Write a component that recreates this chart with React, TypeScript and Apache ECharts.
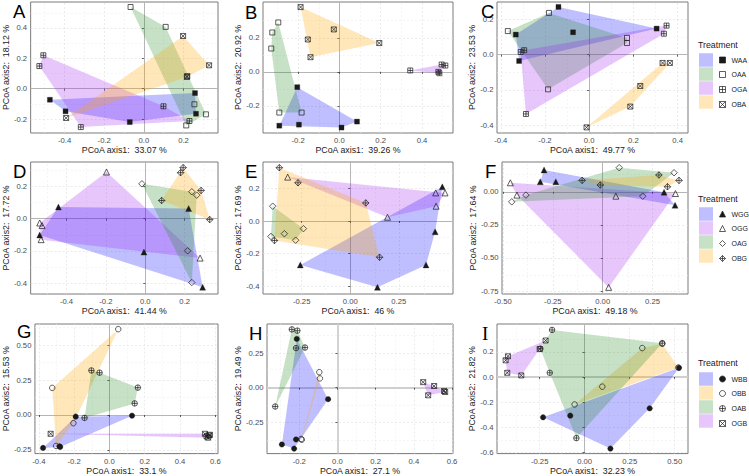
import React, { useEffect, useRef } from "react";
import * as echarts from "echarts";

type P = [number, number];

// ---------- Row 1 (A, B, C) ----------
const row1Groups = ["WAA", "OAA", "OGA", "OBA"];
const aWAA: P[] = [[-0.474, -0.073], [-0.395, -0.149], [-0.071, -0.22], [0.258, -0.029], [0.263, -0.165]];
const aOAA: P[] = [[-0.067, 0.538], [0.11, 0.407], [0.255, -0.103], [0.313, -0.169], [0.214, -0.242]];
const aOGA: P[] = [[-0.507, 0.22], [-0.527, 0.149], [-0.318, -0.253], [0.099, -0.116], [0.23, -0.213]];
const aOBA: P[] = [[0.198, 0.347], [0.329, 0.154], [0.217, 0.077], [-0.392, -0.193], [0.219, 0.083]];
const aXLim = [-0.571, 0.374];
const aYLim = [-0.292, 0.571];
const aXTicks = [-0.4, -0.2, 0, 0.2];
const aYTicks = [-0.2, 0, 0.2, 0.4];

const bWAA: P[] = [[-0.204, -0.09], [-0.291, -0.316], [-0.196, -0.31], [0.01, -0.327], [0.085, -0.292]];
const bOAA: P[] = [[-0.296, 0.29], [-0.325, 0.231], [-0.33, 0.137], [-0.291, -0.239], [-0.183, -0.239]];
const bOGA: P[] = [[0.343, 0.008], [0.495, 0.043], [0.513, 0.037], [0.479, 0.0], [0.484, -0.008]];
const bOBA: P[] = [[-0.188, 0.38], [-0.027, 0.249], [-0.153, 0.19], [-0.14, 0.086], [0.193, 0.169]];
const bXLim = [-0.37, 0.55];
const bYLim = [-0.359, 0.41];
const bXTicks = [-0.2, 0, 0.2, 0.4];
const bYTicks = [-0.2, 0, 0.2];

const cWAA: P[] = [[-0.139, 0.271], [-0.332, 0.114], [-0.073, 0.127], [-0.317, -0.036], [0.305, 0.148]];
const cOAA: P[] = [[-0.368, 0.134], [-0.182, 0.237], [0.171, 0.095], [0.171, 0.066], [-0.186, -0.197]];
const cOGA: P[] = [[-0.31, 0.015], [-0.294, 0.025], [0.35, 0.165], [0.338, 0.119], [-0.286, -0.337]];
const cOBA: P[] = [[-0.012, -0.413], [0.186, -0.295], [0.231, -0.178], [0.332, -0.047], [0.365, -0.047]];
const cXLim = [-0.417, 0.447];
const cYLim = [-0.445, 0.299];
const cXTicks = [-0.4, -0.2, 0, 0.2, 0.4];
const cYTicks = [-0.4, -0.2, 0, 0.2];

// ---------- Row 2 (D, E, F) ----------
const row2Groups = ["WGG", "OGG", "OAG", "OBG"];
const dWGG: P[] = [[-0.441, 0.072], [-0.536, -0.101], [-0.007, -0.207], [0.22, 0.062], [0.291, -0.424]];
const dOGG: P[] = [[-0.197, 0.288], [-0.536, -0.027], [-0.524, -0.043], [-0.529, -0.13], [0.278, -0.244]];
const dOAG: P[] = [[-0.017, 0.215], [0.236, 0.166], [0.215, -0.199], [0.236, -0.395], [0.261, 0.145]];
const dOBG: P[] = [[0.192, 0.315], [0.179, 0.284], [0.083, 0.112], [0.283, 0.174], [0.327, -0.006]];
const dXLim = [-0.582, 0.369];
const dYLim = [-0.466, 0.35];
const dXTicks = [-0.4, -0.2, 0, 0.2];
const dYTicks = [-0.4, -0.2, 0, 0.2];

const eWGG: P[] = [[-0.257, -0.27], [0.14, -0.408], [0.39, -0.27], [0.437, -0.066], [0.474, 0.21]];
const eOGG: P[] = [[-0.322, 0.27], [0.192, 0.023], [0.44, 0.173], [0.488, 0.173], [0.442, 0.091]];
const eOAG: P[] = [[-0.399, 0.091], [-0.408, -0.095], [-0.339, -0.078], [-0.281, -0.118], [-0.241, -0.047]];
const eOBG: P[] = [[-0.365, 0.328], [-0.269, 0.235], [0.08, 0.111], [0.151, -0.223], [-0.39, -0.12]];
const eXLim = [-0.449, 0.529];
const eYLim = [-0.449, 0.363];
const eXTicks = [-0.25, 0, 0.25];
const eYTicks = [-0.4, -0.2, 0, 0.2];

const fWGG: P[] = [[-0.294, 0.165], [-0.313, 0.076], [-0.235, 0.076], [0.308, -0.003], [0.363, -0.101]];
const fOGG: P[] = [[-0.463, 0.068], [-0.43, -0.025], [0.066, -0.033], [0.365, -0.013], [0.03, -0.722]];
const fOAG: P[] = [[-0.456, -0.076], [-0.385, -0.025], [0.083, 0.182], [0.201, -0.033], [0.358, 0.144]];
const fOBG: P[] = [[-0.103, 0.086], [-0.012, 0.051], [0.282, 0.127], [0.325, 0.038], [0.383, 0.086]];
const fXLim = [-0.505, 0.428];
const fYLim = [-0.772, 0.225];
const fXTicks = [-0.5, -0.25, 0, 0.25];
const fYTicks = [-0.75, -0.5, -0.25, 0];

// ---------- Row 3 (G, H, I) ----------
const row3Groups = ["WBB", "OBB", "OAB", "OGB"];
const gWBB: P[] = [[-0.376, -0.236], [-0.283, -0.225], [-0.191, -0.012], [0.128, -0.005], [-0.279, -0.229]];
const gOBB: P[] = [[0.05, 0.615], [-0.324, 0.194], [-0.204, -0.059], [-0.302, -0.222]];
const gOAB: P[] = [[-0.102, 0.319], [-0.056, 0.303], [0.161, 0.196], [0.143, 0.083], [-0.141, -0.021]];
const gOGB: P[] = [[-0.333, -0.135], [0.541, -0.135], [0.55, -0.154], [0.565, -0.147], [0.559, -0.163], [0.569, -0.142]];
const gXLim = [-0.422, 0.615];
const gYLim = [-0.277, 0.652];
const gXTicks = [-0.4, -0.2, 0, 0.2, 0.4, 0.6];
const gYTicks = [-0.25, 0, 0.25, 0.5];

const hWBB: P[] = [[-0.213, 0.352], [-0.049, -0.083], [-0.291, -0.41], [-0.227, -0.44], [-0.217, -0.374]];
const hOBB: P[] = [[-0.095, 0.112], [-0.092, 0.067], [-0.187, -0.376], [-0.19, -0.37]];
const hOAB: P[] = [[-0.239, 0.421], [-0.21, 0.412], [-0.217, 0.286], [-0.17, 0.29], [-0.326, -0.136]];
const hOGB: P[] = [[0.449, 0.04], [0.506, 0.012], [0.475, -0.055], [0.558, -0.024], [0.564, -0.031]];
const hXLim = [-0.369, 0.605];
const hYLim = [-0.476, 0.46];
const hXTicks = [-0.2, 0, 0.2, 0.4, 0.6];
const hYTicks = [-0.25, 0, 0.25];

const iWBB: P[] = [[0.524, 0.073], [-0.231, -0.319], [-0.08, -0.306], [0.361, -0.248], [0.143, -0.567]];
const iOBB: P[] = [[0.32, 0.23], [0.098, -0.076], [-0.056, -0.217], [0.431, 0.264], [0.52, 0.076]];
const iOAB: P[] = [[-0.181, 0.374], [-0.246, 0.225], [-0.194, 0.034], [-0.046, -0.484], [0.431, 0.269]];
const iOGB: P[] = [[-0.439, 0.133], [-0.426, 0.165], [-0.43, 0.034], [-0.352, 0.013], [-0.217, 0.29], [-0.25, 0.222]];
const iXLim = [-0.487, 0.574];
const iYLim = [-0.607, 0.421];
const iXTicks = [-0.25, 0, 0.25, 0.5];
const iYTicks = [-0.6, -0.4, -0.2, 0, 0.2];

const letters = ["A", "B", "C", "D", "E", "F", "G", "H", "I"];
const xPct = ["33.07", "39.26", "49.77", "41.44", "46", "49.18", "33.1", "27.1", "32.23"];
const yPct = ["18.12", "20.92", "23.53", "17.72", "17.69", "17.64", "15.53", "19.49", "21.82"];

// ---------- styles / layout ----------
const FONT = "'Liberation Sans', Arial, Helvetica, sans-serif";
const FILL: Record<string, string> = {
  blue: "rgba(0,0,255,0.25)",
  green: "rgba(34,139,34,0.26)",
  purple: "rgba(160,32,240,0.25)",
  orange: "rgba(255,165,0,0.27)",
};
const SQ_PLUS = "path://M0,0H10V10H0Z M5,0V10 M0,5H10";
const SQ_X = "path://M0,0H10V10H0Z M0,0L10,10 M10,0L0,10";
const DIA_PLUS = "path://M5,0L10,5L5,10L0,5Z M5,0V10 M0,5H10";
const CIR_PLUS = "path://M0,5A5,5,0,1,1,10,5A5,5,0,1,1,0,5Z M5,0V10 M0,5H10";

const GROUP_STYLE: Record<string, { symbol: string; size: number; filled: boolean; fill: string }> = {
  WAA: { symbol: "rect", size: 5, filled: true, fill: FILL.blue },
  OAA: { symbol: "rect", size: 5, filled: false, fill: FILL.green },
  OGA: { symbol: SQ_PLUS, size: 5, filled: false, fill: FILL.purple },
  OBA: { symbol: SQ_X, size: 5, filled: false, fill: FILL.orange },
  WGG: { symbol: "triangle", size: 6, filled: true, fill: FILL.blue },
  OGG: { symbol: "triangle", size: 6, filled: false, fill: FILL.purple },
  OAG: { symbol: "diamond", size: 6.5, filled: false, fill: FILL.green },
  OBG: { symbol: DIA_PLUS, size: 6.5, filled: false, fill: FILL.orange },
  WBB: { symbol: "circle", size: 5.5, filled: true, fill: FILL.blue },
  OBB: { symbol: "circle", size: 5.5, filled: false, fill: FILL.orange },
  OAB: { symbol: CIR_PLUS, size: 5.5, filled: false, fill: FILL.green },
  OGB: { symbol: SQ_X, size: 5, filled: false, fill: FILL.purple },
};

const GRIDS = [
  { left: 27, top: 2, width: 191, height: 131 },
  { left: 263, top: 2, width: 190, height: 131 },
  { left: 497, top: 2, width: 191, height: 131 },
  { left: 27, top: 162, width: 191, height: 132 },
  { left: 263, top: 162, width: 190, height: 132 },
  { left: 502, top: 162, width: 186, height: 132 },
  { left: 31.5, top: 324, width: 186.5, height: 131 },
  { left: 267, top: 324, width: 186, height: 131 },
  { left: 497, top: 324, width: 191, height: 131 },
];
const Y_NAME_GAP = [17.5, 17.5, 19.5, 17.5, 17.5, 22.5, 23, 22, 17.5];
const LETTER_POS = [
  [13, 11.5], [245, 12], [481, 11],
  [13, 171], [245, 171], [485, 171],
  [17, 331], [249, 333], [482, 333],
];
const ZERO_W = [[1, 1], [1, 1], [1, 1], [1, 1], [1, 1], [1, 1], [1, 1], [1.8, 1.8], [1, 1.8]];
const LEGEND_TOP = [55, 209, 374];
const LEGEND_TITLE_Y = [45, 199, 363];

const PANELS = [
  { groups: row1Groups, data: [aWAA, aOAA, aOGA, aOBA], xl: aXLim, yl: aYLim, xt: aXTicks, yt: aYTicks, xd: 1, yd: 1 },
  { groups: row1Groups, data: [bWAA, bOAA, bOGA, bOBA], xl: bXLim, yl: bYLim, xt: bXTicks, yt: bYTicks, xd: 1, yd: 1 },
  { groups: row1Groups, data: [cWAA, cOAA, cOGA, cOBA], xl: cXLim, yl: cYLim, xt: cXTicks, yt: cYTicks, xd: 1, yd: 1 },
  { groups: row2Groups, data: [dWGG, dOGG, dOAG, dOBG], xl: dXLim, yl: dYLim, xt: dXTicks, yt: dYTicks, xd: 1, yd: 1 },
  { groups: row2Groups, data: [eWGG, eOGG, eOAG, eOBG], xl: eXLim, yl: eYLim, xt: eXTicks, yt: eYTicks, xd: 2, yd: 1 },
  { groups: row2Groups, data: [fWGG, fOGG, fOAG, fOBG], xl: fXLim, yl: fYLim, xt: fXTicks, yt: fYTicks, xd: 2, yd: 2 },
  { groups: row3Groups, data: [gWBB, gOBB, gOAB, gOGB], xl: gXLim, yl: gYLim, xt: gXTicks, yt: gYTicks, xd: 1, yd: 2 },
  { groups: row3Groups, data: [hWBB, hOBB, hOAB, hOGB], xl: hXLim, yl: hYLim, xt: hXTicks, yt: hYTicks, xd: 1, yd: 2 },
  { groups: row3Groups, data: [iWBB, iOBB, iOAB, iOGB], xl: iXLim, yl: iYLim, xt: iXTicks, yt: iYTicks, xd: 2, yd: 1 },
];

function convexHull(pts: P[]): P[] {
  const p = pts.slice().sort((a, b) => a[0] - b[0] || a[1] - b[1]);
  if (p.length < 3) return p;
  const cross = (o: P, a: P, b: P) => (a[0] - o[0]) * (b[1] - o[1]) - (a[1] - o[1]) * (b[0] - o[0]);
  const lower: P[] = [];
  for (const q of p) {
    while (lower.length >= 2 && cross(lower[lower.length - 2], lower[lower.length - 1], q) <= 0) lower.pop();
    lower.push(q);
  }
  const upper: P[] = [];
  for (let i = p.length - 1; i >= 0; i--) {
    const q = p[i];
    while (upper.length >= 2 && cross(upper[upper.length - 2], upper[upper.length - 1], q) <= 0) upper.pop();
    upper.push(q);
  }
  upper.pop();
  lower.pop();
  return lower.concat(upper);
}

function minorTicks(ticks: number[], lim: number[]): number[] {
  const step = ticks[1] - ticks[0];
  const out: number[] = [];
  let v = ticks[0] - step / 2;
  while (v >= lim[0]) { out.push(v); v -= step; }
  for (let i = 0; i < ticks.length - 1; i++) out.push((ticks[i] + ticks[i + 1]) / 2);
  v = ticks[ticks.length - 1] + step / 2;
  while (v <= lim[1]) { out.push(v); v += step; }
  return out;
}

function buildOption() {
  const grid: any[] = [];
  const xAxis: any[] = [];
  const yAxis: any[] = [];
  const series: any[] = [];
  const graphic: any[] = [];

  PANELS.forEach((pn, gi) => {
    grid.push({ ...GRIDS[gi], show: true, borderColor: "#7a7a7a", borderWidth: 1, backgroundColor: "#fff" });
    const common = {
      gridIndex: gi,
      type: "value",
      axisLine: { show: false },
      splitLine: { show: false },
      nameLocation: "middle",
      nameTextStyle: { fontSize: 8.8, color: "#1a1a1a", fontFamily: FONT },
    };
    xAxis.push({
      ...common,
      min: pn.xl[0],
      max: pn.xl[1],
      name: "PCoA axis1:  " + xPct[gi] + " %",
      nameGap: 12,
      axisTick: { show: true, customValues: pn.xt, length: 2, lineStyle: { color: "#333", width: 0.8 } },
      axisLabel: {
        customValues: pn.xt,
        formatter: (v: number) => v.toFixed(pn.xd),
        fontSize: 7.7,
        color: "#4d4d4d",
        margin: 3.5,
        fontFamily: FONT,
      },
    });
    yAxis.push({
      ...common,
      min: pn.yl[0],
      max: pn.yl[1],
      name: "PCoA axis2:  " + yPct[gi] + " %",
      nameGap: Y_NAME_GAP[gi],
      axisTick: { show: true, customValues: pn.yt, length: 2, lineStyle: { color: "#333", width: 0.8 } },
      axisLabel: {
        customValues: pn.yt,
        formatter: (v: number) => v.toFixed(pn.yd),
        fontSize: 7.7,
        color: "#4d4d4d",
        margin: 3.5,
        fontFamily: FONT,
      },
    });

    const minorStyle = { color: "#efefef", width: 0.6, type: [2, 2] };
    const majorStyle = { color: "#e2e2e2", width: 0.7, type: [2, 2] };
    const zw = ZERO_W[gi];
    const mlData: any[] = [];
    minorTicks(pn.xt, pn.xl).forEach((v) => mlData.push({ xAxis: v, lineStyle: minorStyle }));
    minorTicks(pn.yt, pn.yl).forEach((v) => mlData.push({ yAxis: v, lineStyle: minorStyle }));
    pn.xt.filter((v) => v !== 0).forEach((v) => mlData.push({ xAxis: v, lineStyle: majorStyle }));
    pn.yt.filter((v) => v !== 0).forEach((v) => mlData.push({ yAxis: v, lineStyle: majorStyle }));
    mlData.push({ xAxis: 0, lineStyle: { color: zw[0] > 1 ? "#cfcfcf" : "#b5b5b5", width: zw[0], type: "solid" } });
    mlData.push({ yAxis: 0, lineStyle: { color: zw[1] > 1 ? "#cfcfcf" : "#b5b5b5", width: zw[1], type: "solid" } });
    series.push({
      type: "scatter",
      xAxisIndex: gi,
      yAxisIndex: gi,
      data: [],
      silent: true,
      markLine: {
        z: 0,
        silent: true,
        symbol: ["none", "none"],
        label: { show: false },
        emphasis: { disabled: true },
        animation: false,
        data: mlData,
      },
    });

    pn.groups.forEach((g, k) => {
      const st = GROUP_STYLE[g];
      const pts = pn.data[k];
      const hull = convexHull(pts);
      series.push({
        type: "custom",
        xAxisIndex: gi,
        yAxisIndex: gi,
        silent: true,
        z: 2,
        data: hull,
        renderItem: (params: any, api: any) => {
          if (params.dataIndex !== 0) return null;
          const ps = hull.map((q) => api.coord(q));
          return { type: "polygon", shape: { points: ps }, style: { fill: st.fill, stroke: "none" } };
        },
      });
    });
    pn.groups.forEach((g, k) => {
      const st = GROUP_STYLE[g];
      series.push({
        type: "scatter",
        name: g,
        xAxisIndex: gi,
        yAxisIndex: gi,
        z: 3,
        silent: true,
        symbol: st.symbol,
        symbolSize: st.size,
        data: pn.data[k],
        itemStyle: {
          color: st.filled ? "#1a1a1a" : "none",
          borderColor: "#1a1a1a",
          borderWidth: st.filled ? 0.3 : 0.7,
          opacity: 1,
        },
      });
    });

    graphic.push({
      type: "text",
      x: LETTER_POS[gi][0],
      y: LETTER_POS[gi][1],
      style: {
        text: letters[gi],
        fontSize: gi === 8 ? 19 : 18.5,
        lineHeight: 8,
        fontFamily: gi === 8 ? "'Liberation Serif', 'DejaVu Serif', serif" : FONT,
        fill: "#000",
        verticalAlign: "middle",
        align: "left",
      },
      z: 10,
    });
  });

  const rowGroups = [row1Groups, row2Groups, row3Groups];
  const legend: any[] = rowGroups.map((gs, r) => ({
    data: gs,
    orient: "vertical",
    left: 717,
    top: LEGEND_TOP[r],
    itemWidth: 6,
    itemHeight: 6,
    itemGap: 4,
    padding: 0,
    selectedMode: false,
    itemStyle: { borderWidth: 0.7 },
    textStyle: { fontSize: 7, lineHeight: 10, color: "#1a1a1a", fontFamily: FONT, padding: [0, 0, 0, 1] },
  }));
  rowGroups.forEach((gs, r) => {
    graphic.push({
      type: "text",
      x: 698,
      y: LEGEND_TITLE_Y[r],
      style: { text: "Treatment", fontSize: 8.8, fontFamily: FONT, fill: "#1a1a1a", verticalAlign: "middle" },
    });
    gs.forEach((g, k) => {
      const cy = LEGEND_TOP[r] + 5 + k * 14;
      graphic.push({
        type: "rect",
        shape: { x: 699, y: cy - 6.75, width: 14, height: 13.5 },
        style: { fill: GROUP_STYLE[g].fill },
      });
    });
  });

  return {
    animation: false,
    backgroundColor: "#fff",
    textStyle: { fontFamily: FONT },
    grid,
    xAxis,
    yAxis,
    series,
    legend,
    graphic,
  };
}

export default function App() {
  const ref = useRef<HTMLDivElement>(null);
  useEffect(() => {
    document.body.style.margin = "0";
    const chart = echarts.init(ref.current!, undefined, { renderer: "svg" });
    chart.setOption(buildOption() as any);
    return () => chart.dispose();
  }, []);
  return (
    <div
      ref={ref}
      style={{ position: "absolute", left: 0, top: 0, width: 749, height: 476, background: "#fff" }}
    />
  );
}
